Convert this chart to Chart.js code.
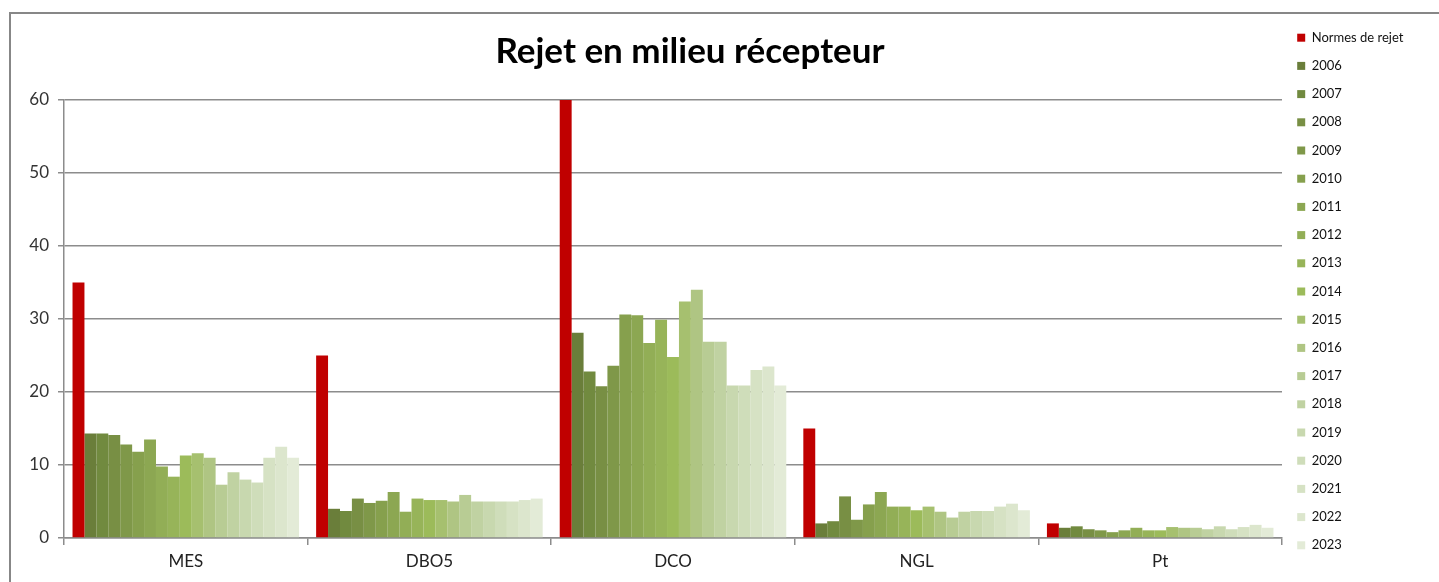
<!DOCTYPE html>
<html>
<head>
<meta charset="utf-8">
<script src="https://cdn.jsdelivr.net/npm/chart.js@4/dist/chart.umd.min.js"></script>
<style>
  html, body { margin: 0; padding: 0; background: #fff; overflow: hidden; }
  body { width: 1439px; height: 582px; position: relative; }
  #frame { position: absolute; left: 9px; top: 12px; width: 1500px; height: 600px;
           border-top: 2px solid #878787; border-left: 2px solid #878787; }
  #wrap { position: absolute; left: -26px; top: 0; width: 1452px; height: 582px; }
</style>
</head>
<body>
<div id="frame"></div>
<div id="wrap"><canvas id="c"></canvas></div>
<script>
const categories = ['MES', 'DBO5', 'DCO', 'NGL', 'Pt'];
const seriesNames = ['Normes de rejet', '2006', '2007', '2008', '2009', '2010', '2011', '2012', '2013',
  '2014', '2015', '2016', '2017', '2018', '2019', '2020', '2021', '2022', '2023'];
const normes = [35, 25, 60, 15, 2];
// values per category, years 2006..2023
const mes  = [14.3, 14.3, 14.1, 12.8, 11.8, 13.5, 9.8, 8.4, 11.3, 11.6, 11.0, 7.3, 9.0, 8.0, 7.6, 11.0, 12.5, 11.0];
const dbo5 = [4.0, 3.7, 5.4, 4.8, 5.1, 6.3, 3.6, 5.4, 5.2, 5.2, 5.0, 5.9, 5.0, 5.0, 5.0, 5.0, 5.2, 5.4];
const dco  = [28.1, 22.8, 20.8, 23.6, 30.6, 30.5, 26.7, 29.9, 24.8, 32.4, 34.0, 26.9, 26.9, 20.9, 20.9, 23.0, 23.5, 20.9];
const ngl  = [2.0, 2.3, 5.7, 2.5, 4.6, 6.3, 4.3, 4.3, 3.8, 4.3, 3.6, 2.8, 3.6, 3.7, 3.7, 4.3, 4.7, 3.8];
const pt   = [1.4, 1.6, 1.2, 1.05, 0.8, 1.05, 1.4, 1.05, 1.05, 1.5, 1.4, 1.4, 1.2, 1.6, 1.2, 1.5, 1.8, 1.4];
const yTicks = [0, 10, 20, 30, 40, 50, 60];
const colors = ['#C00000', '#6A7E3A', '#718A3F', '#788F44', '#7F9849', '#86A04D', '#8CA752', '#92AE56',
  '#97B459', '#9CBB5A', '#A6C06F', '#AFC583', '#B8CC94', '#C0D2A2', '#C8D8AF', '#CFDDBA', '#D6E2C4',
  '#DCE6CD', '#E3EBD7'];

const byCategory = [mes, dbo5, dco, ngl, pt];
const datasets = seriesNames.map((name, i) => ({
  label: name,
  data: i === 0 ? normes.slice() : byCategory.map(arr => arr[i - 1]),
  backgroundColor: colors[i],
  borderWidth: 0,
  barPercentage: 1.0,
  categoryPercentage: 0.93
}));

const gridColor = '#8c8c8c';
new Chart(document.getElementById('c'), {
  type: 'bar',
  data: { labels: categories, datasets },
  options: {
    responsive: true,
    maintainAspectRatio: false,
    animation: false,
    layout: { padding: { top: 16, right: 20, left: 0, bottom: 0 } },
    plugins: {
      tooltip: { enabled: false },
      title: {
        display: true,
        text: 'Rejet en milieu récepteur',
        color: '#000',
        font: { family: 'Lato', size: 35, weight: 'bold', lineHeight: 1.2 },
        padding: { top: 15, bottom: 27 }
      },
      legend: {
        display: true,
        position: 'right',
        align: 'start',
        maxWidth: 124,
        labels: {
          boxWidth: 8,
          boxHeight: 8,
          padding: 15.2,
          color: '#111',
          font: { family: 'Lato', size: 13 }
        }
      }
    },
    scales: {
      x: {
        afterFit: s => { s.height = 44; },
        grid: { display: true, drawOnChartArea: false, drawTicks: true, tickLength: 7, color: gridColor, lineWidth: 1.5, offset: true },
        border: { display: true, color: gridColor, width: 1.5 },
        ticks: { color: '#222', padding: 6, font: { family: 'Lato', size: 17 } }
      },
      y: {
        min: 0, max: 60,
        afterFit: s => { s.width = 90; },
        afterBuildTicks: s => { s.ticks = yTicks.map(v => ({ value: v })); },
        grid: { color: gridColor, lineWidth: 1.5, drawTicks: true, tickLength: 6 },
        border: { display: true, color: gridColor, width: 1.5 },
        ticks: { color: '#333', padding: 9, font: { family: 'Lato', size: 17 } }
      }
    }
  }
});
</script>
</body>
</html>
